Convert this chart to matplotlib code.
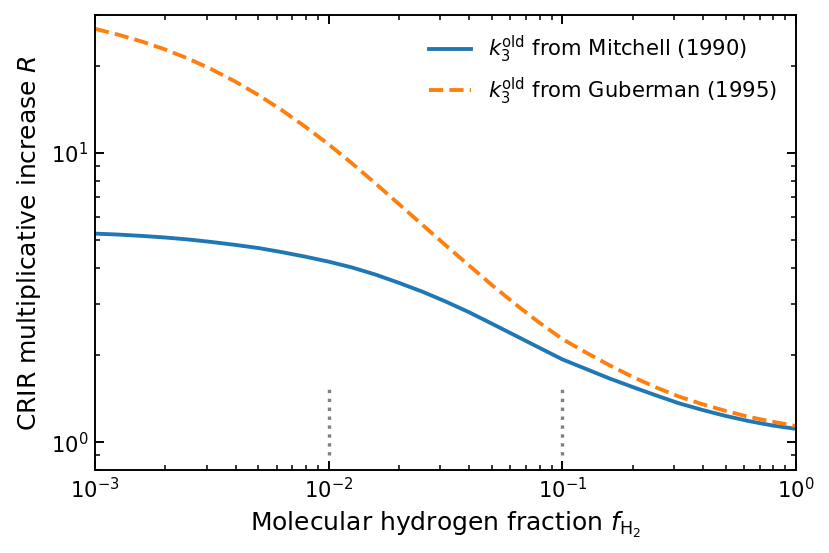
import numpy as np
import matplotlib
matplotlib.use('Agg')
import matplotlib.pyplot as plt

log_f = [-3.0, -2.9, -2.8, -2.7, -2.6, -2.5, -2.4, -2.3, -2.2, -2.1,
         -2.0, -1.9, -1.8, -1.7, -1.6, -1.5, -1.4, -1.3, -1.2, -1.1,
         -1.0, -0.9, -0.8, -0.7, -0.6, -0.5, -0.4, -0.3, -0.2, -0.1, 0.0]
R_mitchell = [5.25, 5.21, 5.155, 5.09, 5.01, 4.91, 4.80, 4.68, 4.53, 4.37,
              4.20, 4.01, 3.79, 3.55, 3.31, 3.06, 2.81, 2.56, 2.33, 2.12,
              1.93, 1.79, 1.66, 1.55, 1.45, 1.36, 1.29, 1.23, 1.18, 1.14, 1.11]
R_guberman = [26.8, 25.56, 24.22, 22.73, 21.12, 19.39, 17.61, 15.80, 14.02, 12.29,
              10.68, 9.18, 7.83, 6.65, 5.64, 4.79, 4.08, 3.48, 2.99, 2.59,
              2.27, 2.04, 1.845, 1.68, 1.545, 1.435, 1.35, 1.28, 1.22, 1.175, 1.135]

labels = [r'$k_3^{\rm old}$ from Mitchell (1990)',
          r'$k_3^{\rm old}$ from Guberman (1995)']

# dotted markers
mark_x = [0.01, 0.1]
mark_lo, mark_hi = 0.9, 1.56

f_h2 = 10.0 ** np.array(log_f)

fig = plt.figure(figsize=(6, 4), dpi=138.33)
ax = fig.add_axes([0.1145, 0.150, 0.8445, 0.823])

ax.plot(f_h2, R_mitchell, color='tab:blue', lw=2, label=labels[0])
ax.plot(f_h2, R_guberman, color='tab:orange', lw=2, ls='--', label=labels[1])
ax.vlines(mark_x, mark_lo, mark_hi, colors='gray', linestyles=':', lw=1.75)

ax.set_xscale('log')
ax.set_yscale('log')
ax.set_xlim(1e-3, 1)
ax.set_ylim(0.8, 30)

ax.set_xlabel(r'Molecular hydrogen fraction $f_{\rm H_2}$', fontsize=13)
ax.set_ylabel(r'CRIR multiplicative increase $R$', fontsize=13)

ax.tick_params(which='both', direction='in', top=True, right=True, labelsize=11)
ax.tick_params(which='major', length=4.5, width=1)
ax.tick_params(which='minor', length=2.5, width=0.8)
ax.yaxis.set_minor_formatter(matplotlib.ticker.NullFormatter())
for s in ax.spines.values():
    s.set_linewidth(1)

ax.legend(loc='upper right', frameon=False, fontsize=11)

fig.savefig('out.png', dpi=138.33)
